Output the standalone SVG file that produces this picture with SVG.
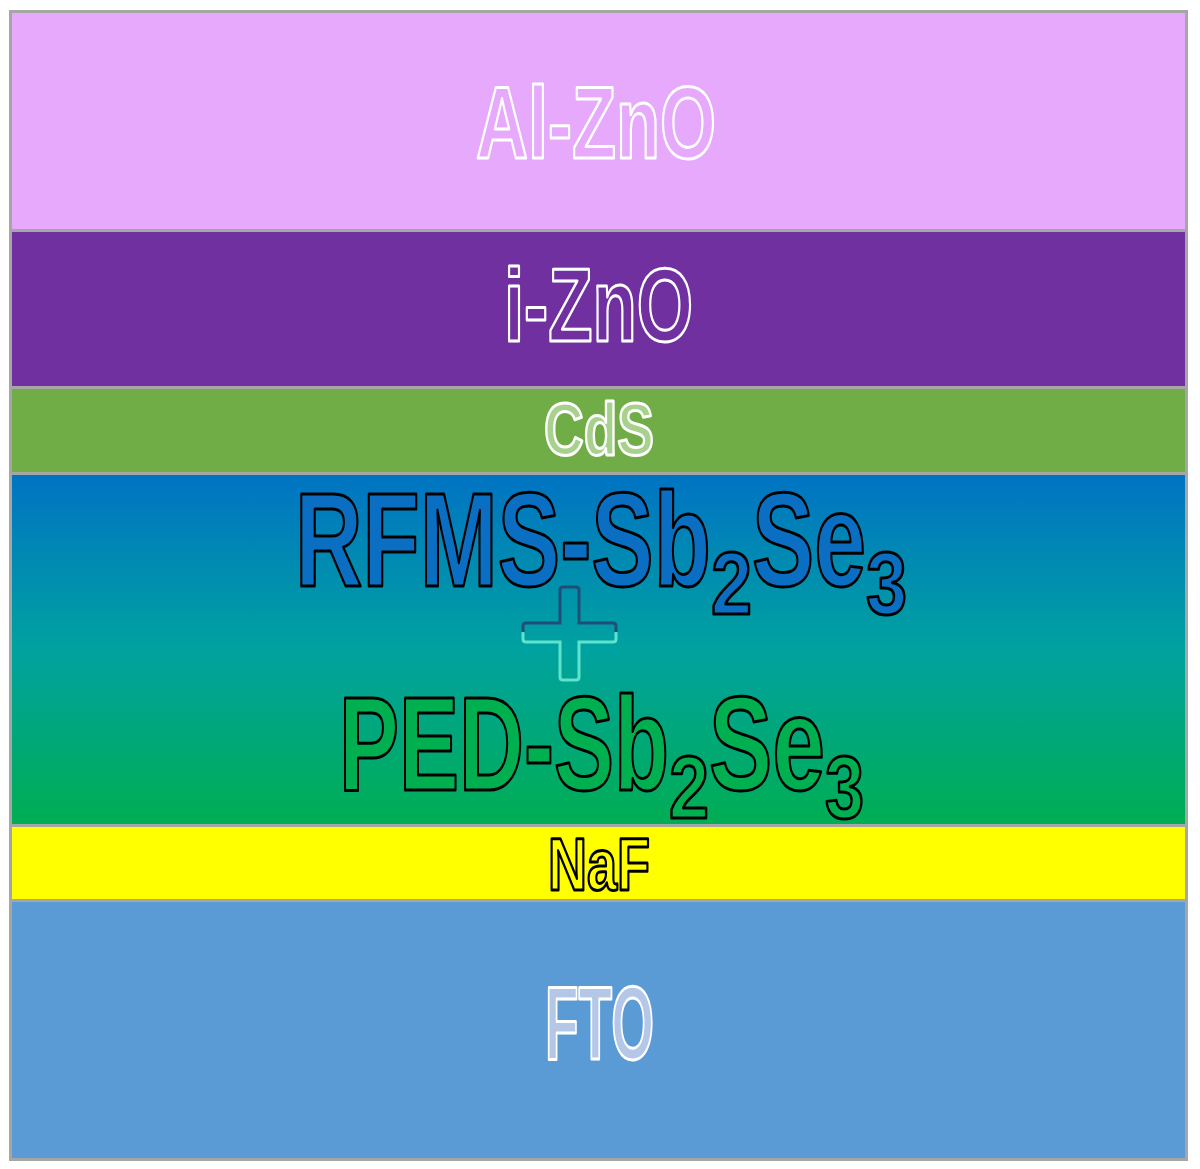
<svg xmlns="http://www.w3.org/2000/svg" width="1200" height="1169" viewBox="0 0 1200 1169">
<style>
.layer{stroke:#a6a6a6;stroke-width:3}
.lbl{font-family:"Liberation Sans",Arial,sans-serif;font-weight:bold;stroke-width:3;stroke-linejoin:round}
.w{stroke:#ffffff}
.k{stroke:#000000}
</style>
<defs>
<linearGradient id="absorber" x1="0" y1="473" x2="0" y2="825" gradientUnits="userSpaceOnUse">
<stop offset="0" stop-color="#0073c4"/>
<stop offset="0.5" stop-color="#00a2a0"/>
<stop offset="1" stop-color="#00ae52"/>
</linearGradient>
<linearGradient id="plusStroke" x1="0" y1="587" x2="0" y2="680" gradientUnits="userSpaceOnUse">
<stop offset="0" stop-color="#1f4e79"/>
<stop offset="0.48" stop-color="#1f4e79"/>
<stop offset="0.49" stop-color="#5fe3cc"/>
<stop offset="1" stop-color="#5fe3cc"/>
</linearGradient>
</defs>
<rect x="0" y="0" width="1200" height="1169" fill="#ffffff"/>

<g id="layer-alzno">
<rect class="layer" x="10.5" y="11.5" width="1176" height="219" fill="#e6a9fc"/>
<text class="lbl w" x="476" y="157.5" font-size="102" fill="#e6a9fc" textLength="240" lengthAdjust="spacingAndGlyphs">Al-ZnO</text>
</g>

<g id="layer-izno">
<rect class="layer" x="10.5" y="230.5" width="1176" height="157" fill="#7030a0"/>
<text class="lbl w" x="504" y="340.5" font-size="103" fill="#7030a0" textLength="189" lengthAdjust="spacingAndGlyphs">i-ZnO</text>
</g>

<g id="layer-cds">
<rect class="layer" x="10.5" y="387.5" width="1176" height="86" fill="#70ad47"/>
<text class="lbl w" x="544" y="454.5" font-size="74" fill="#a9d18e" textLength="110" lengthAdjust="spacingAndGlyphs">CdS</text>
</g>

<g id="layer-absorber">
<rect class="layer" x="10.5" y="473.5" width="1176" height="352" fill="url(#absorber)"/>
<text class="lbl k" y="586" fill="#0a6fc2"><tspan x="295" font-size="134" textLength="416" lengthAdjust="spacingAndGlyphs">RFMS-Sb</tspan><tspan x="711" y="613.5" font-size="89" textLength="41" lengthAdjust="spacingAndGlyphs">2</tspan><tspan x="752" y="586" font-size="134" textLength="114" lengthAdjust="spacingAndGlyphs">Se</tspan><tspan x="866" y="613.5" font-size="89" textLength="41" lengthAdjust="spacingAndGlyphs">3</tspan></text>
<path d="M560,590 Q560,587 563,587 L576,587 Q579,587 579,590 L579,623 L613,623 Q616,623 616,626 L616,639 Q616,642 613,642 L579,642 L579,677 Q579,680 576,680 L563,680 Q560,680 560,677 L560,642 L526,642 Q523,642 523,639 L523,626 Q523,623 526,623 L560,623 Z" fill="none" stroke="url(#plusStroke)" stroke-width="3"/>
<text class="lbl k" y="790" fill="#00b050"><tspan x="339" font-size="134" textLength="330" lengthAdjust="spacingAndGlyphs">PED-Sb</tspan><tspan x="669" y="818" font-size="89" textLength="40" lengthAdjust="spacingAndGlyphs">2</tspan><tspan x="709" y="790" font-size="134" textLength="116" lengthAdjust="spacingAndGlyphs">Se</tspan><tspan x="825" y="818" font-size="89" textLength="39" lengthAdjust="spacingAndGlyphs">3</tspan></text>
</g>

<g id="layer-naf">
<rect class="layer" x="10.5" y="825.5" width="1176" height="75" fill="#ffff00"/>
<text class="lbl k" x="548" y="889.5" font-size="74" fill="#ffff00" textLength="102" lengthAdjust="spacingAndGlyphs">NaF</text>
</g>

<g id="layer-fto">
<rect class="layer" x="10.5" y="900.5" width="1176" height="259" fill="#5b9bd5"/>
<text class="lbl w" x="545" y="1058.5" font-size="103" fill="#b4c7e7" textLength="109" lengthAdjust="spacingAndGlyphs">FTO</text>
</g>

<g id="connectors"></g>
</svg>
